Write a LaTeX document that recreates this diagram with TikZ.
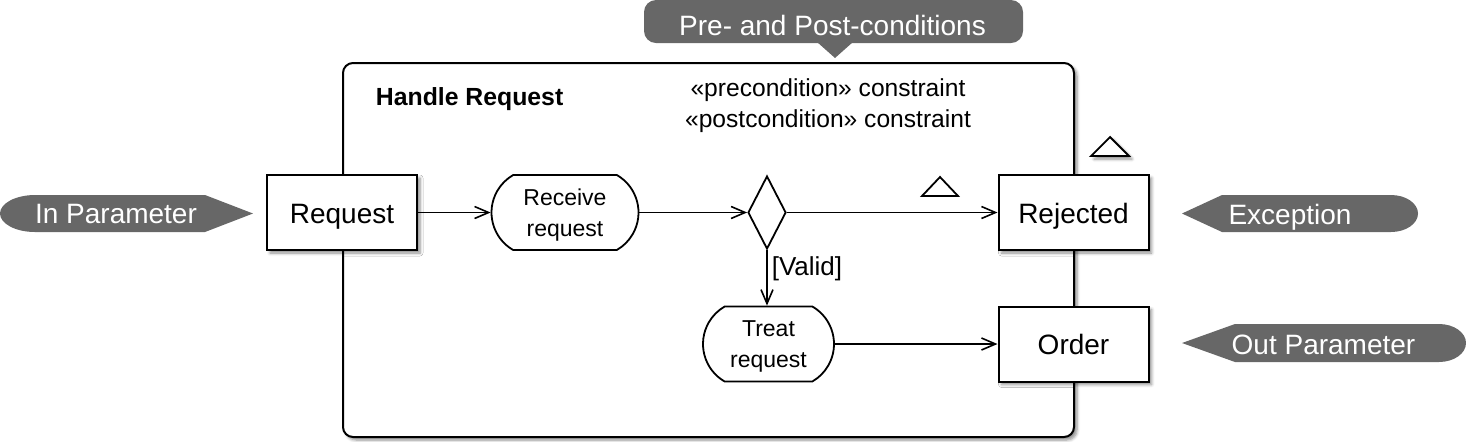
\documentclass[tikz,border=0pt]{standalone}
\usepackage{fontspec}
\setmainfont{Liberation Sans}
\usetikzlibrary{shapes.geometric,shapes.misc,shadows.blur,arrows.meta}
\definecolor{callgray}{RGB}{103,103,103}
\tikzset{
 shadowed/.style={blur shadow={shadow xshift=1.5pt,shadow yshift=-1.5pt,shadow blur radius=1.5pt,shadow blur steps=5,shadow opacity=45}},
 objbox/.style={draw,line width=1pt,fill=white,shadowed,minimum width=75pt,minimum height=37.5pt,inner sep=0pt,text height=12pt,text depth=1.5pt,font=\fontsize{14}{16}\selectfont},
 actbox/.style={rounded rectangle, rounded rectangle arc length=120, draw, line width=0.9pt, fill=white, minimum height=37.5pt, inner sep=0pt, align=center, text depth=0pt, font=\fontsize{11.5}{15.5}\selectfont},
 decbox/.style={diamond, draw, line width=0.9pt, fill=white, minimum width=19pt, minimum height=36.5pt, inner sep=0pt, aspect=0.52},
 flow/.style={line width=0.8pt, -{Straight Barb[length=7pt,width=6pt,line width=0.8pt]}},
 calloutfill/.style={fill=callgray, draw=none},
 callouttext/.style={text=white, font=\fontsize{14}{16}\selectfont, anchor=base, inner sep=0pt},
 frame/.style={draw, line width=1pt, rounded corners=5pt, fill=white, shadowed, minimum width=365.5pt, minimum height=187pt, inner sep=0pt},
 plain/.style={anchor=base, inner sep=0pt},
 marker/.style={draw, line width=0.9pt, fill=white, line join=miter},
}
\begin{document}
\begin{tikzpicture}[x=0.5pt,y=-0.5pt]
\useasboundingbox (0,0) rectangle (1466,441);

% activity frame
\node[frame] (act) at (708.5,250) {};
\node[plain, anchor=base west, font=\bfseries\fontsize{12.4}{14}\selectfont] (title) at (375.5,105) {Handle Request};
\node[plain, font=\fontsize{12.3}{14}\selectfont] (pre) at (828,96) {«precondition» constraint};
\node[plain, font=\fontsize{12.3}{14}\selectfont] (post) at (828,127) {«postcondition» constraint};

% nodes
\node[objbox] (req) at (342,212.5) {Request};
\node[actbox, minimum width=73.5pt] (recv) at (565,212.5) {Receive\\request};
\node[decbox] (dec) at (767,212.5) {};
\node[actbox, minimum width=65.5pt] (treat) at (768.5,344) {Treat\\request};
\node[objbox] (rej) at (1073.5,212.5) {Rejected};
\node[objbox] (ord) at (1073.5,344) {Order};

% connectors
\draw[flow] (req.east) -- (recv.west);
\draw[flow] (recv.east) -- (dec.west);
\draw[flow] (dec.east) -- (rej.west);
\draw[flow] (dec.south) -- node[right, pos=0.33, inner sep=2pt, font=\fontsize{13}{15}\selectfont] (valid) {[Valid]} (dec.south |- treat.north);
\draw[flow] (treat.east) -- (ord.west);

% stream / exception markers
\draw[marker] (922,196) -- (940,177) -- (958,196) -- cycle;
\draw[marker, shadowed] (1091,156) -- (1110,137) -- (1129,156) -- cycle;

% callouts
\fill[calloutfill] (35,195) -- (205,195) -- (253,213.5) -- (205,232) -- (35,232)
  .. controls (15.7,232) and (0,223.7) .. (0,213.5)
  .. controls (0,203.3) and (15.7,195) .. (35,195) -- cycle;
\node[callouttext] (inparam) at (116,223) {In Parameter};

\fill[calloutfill] (1182,213.5) -- (1222,195) -- (1391,195)
  .. controls (1405.9,195) and (1418,203.3) .. (1418,213.5)
  .. controls (1418,223.7) and (1405.9,232) .. (1391,232) -- (1222,232) -- cycle;
\node[callouttext] (exc) at (1290,224) {Exception};

\fill[calloutfill] (1182,343) -- (1235,324) -- (1439,324)
  .. controls (1453.9,324) and (1466,332.5) .. (1466,343)
  .. controls (1466,353.5) and (1453.9,362) .. (1439,362) -- (1235,362) -- cycle;
\node[callouttext] (outparam) at (1323.5,354) {Out Parameter};

\fill[calloutfill, rounded corners=6pt] (644,0) rectangle (1023,43);
\fill[calloutfill] (817,42) -- (835,58) -- (853,42) -- cycle;
\node[callouttext] (prepost) at (832.5,35) {Pre- and Post-conditions};
\end{tikzpicture}
\end{document}
